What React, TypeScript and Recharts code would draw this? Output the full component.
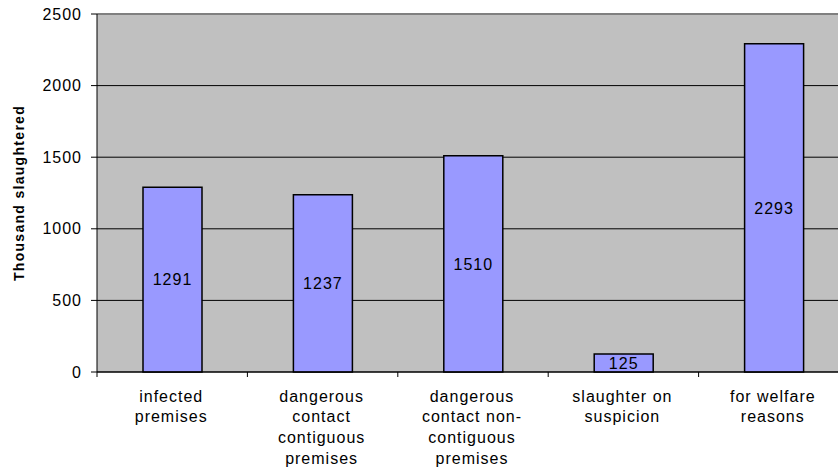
import React from "react"
import {
  BarChart,
  Bar,
  XAxis,
  YAxis,
  CartesianGrid,
  ReferenceLine,
  LabelList,
} from "recharts"

const categories = [
  "infected premises",
  "dangerous contact contiguous premises",
  "dangerous contact non-contiguous premises",
  "slaughter on suspicion",
  "for welfare reasons",
]

const tickLines = [
  ["infected", "premises"],
  ["dangerous", "contact", "contiguous", "premises"],
  ["dangerous", "contact non-", "contiguous", "premises"],
  ["slaughter on", "suspicion"],
  ["for welfare", "reasons"],
]

const slaughtered = [1291, 1237, 1510, 125, 2293]

const yTicks = [0, 500, 1000, 1500, 2000, 2500]

const data = categories.map((name, i) => ({ name, value: slaughtered[i] }))

const font = "Arial, 'Liberation Sans', sans-serif"
const BAND = 150.4

function CategoryTick(props: any) {
  const { x, y, payload } = props
  const lines = tickLines[payload.index] || [payload.value]
  return (
    <g>
      <line x1={x - BAND / 2} x2={x - BAND / 2} y1={y} y2={y + 5} stroke="#000" />
      <text
        x={x - 1}
        y={y}
        textAnchor="middle"
        fontFamily={font}
        fontSize={16}
        letterSpacing={1}
        fill="#000"
      >
        {lines.map((l, i) => (
          <tspan key={i} x={x - 1} dy={i === 0 ? 29.5 : 20.7}>
            {l}
          </tspan>
        ))}
      </text>
    </g>
  )
}

function YLabel() {
  return (
    <text
      x={19}
      y={193}
      transform="rotate(-90 19 193)"
      textAnchor="middle"
      dominantBaseline="central"
      fontFamily={font}
      fontSize={14}
      fontWeight="bold"
      letterSpacing={1.3}
      fill="#000"
    >
      Thousand slaughtered
    </text>
  )
}

export default function App() {
  return (
    <div
      style={{
        position: "absolute",
        left: 0,
        top: 0,
        width: 838,
        height: 467,
        overflow: "hidden",
        background: "#fff",
      }}
    >
      <BarChart
        width={851}
        height={467}
        data={data}
        margin={{ top: 14, right: 2, bottom: 0, left: 0 }}
        barSize={59}
      >
        <CartesianGrid vertical={false} fill="#C0C0C0" stroke="#000" strokeOpacity={1} />
        <XAxis
          dataKey="name"
          interval={0}
          height={95}
          tickSize={0}
          tickMargin={0}
          tickLine={false}
          axisLine={{ stroke: "#000" }}
          tick={<CategoryTick />}
        />
        <YAxis
          domain={[0, 2500]}
          ticks={yTicks}
          width={97}
          tickSize={6}
          tickMargin={9}
          axisLine={{ stroke: "#000" }}
          tickLine={{ stroke: "#000" }}
          tick={{ fontSize: 16, fill: "#000", fontFamily: font, letterSpacing: 1 }}
          label={{ content: () => <YLabel /> }}
        />
        <ReferenceLine y={2500} stroke="#808080" strokeWidth={2} />
        <Bar
          dataKey="value"
          fill="#9999FF"
          stroke="#000"
          strokeWidth={1.5}
          isAnimationActive={false}
        >
          <LabelList
            dataKey="value"
            position="center"
            fill="#000"
            fontSize={16}
            fontFamily={font}
            letterSpacing={1}
          />
        </Bar>
      </BarChart>
    </div>
  )
}
